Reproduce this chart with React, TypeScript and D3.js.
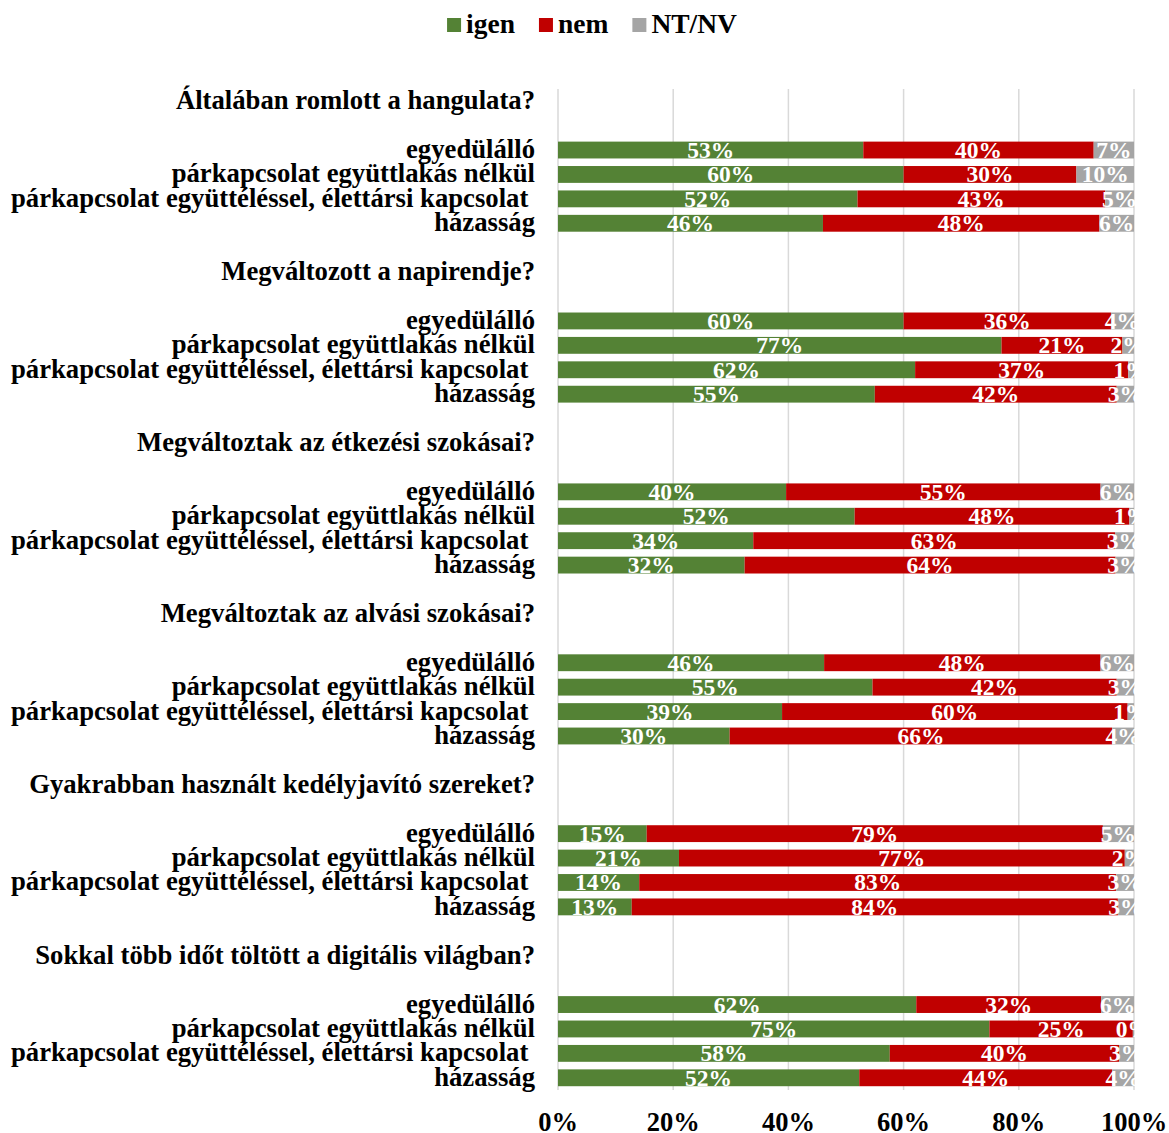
import * as React from 'react';
import { useRef, useEffect } from 'react';
import * as d3 from 'd3';

const questions = [
  'Általában romlott a hangulata?',
  'Megváltozott a napirendje?',
  'Megváltoztak az étkezési szokásai?',
  'Megváltoztak az alvási szokásai?',
  'Gyakrabban használt kedélyjavító szereket?',
  'Sokkal több időt töltött a digitális világban?',
];

const groups = [
  'egyedülálló',
  'párkapcsolat együttlakás nélkül',
  'párkapcsolat együttéléssel, élettársi kapcsolat ',
  'házasság',
];

const seriesNames = ['igen', 'nem', 'NT/NV'];
const seriesColors = ['#548235', '#C00000', '#A5A5A5'];

// values in %, 4 per question (same order as groups)
const igen = [53, 60, 52, 46, 60, 77, 62, 55, 39.6, 51.5, 33.9, 32.4, 46.2, 54.6, 38.9, 29.8, 15.4, 21, 14.1, 12.8, 62.2, 74.9, 57.6, 52.3];
const nem = [40, 30, 43, 48, 36, 21, 37, 42, 54.6, 47.7, 62.8, 64.4, 48, 42.4, 60, 66.4, 79.2, 77.4, 82.8, 84.4, 32.1, 24.9, 39.8, 43.9];
const ntnv = [7, 10, 5, 6, 4, 2, 1, 3, 5.8, 0.8, 3.3, 3.2, 5.8, 3, 1.1, 3.8, 5.4, 1.6, 3.1, 2.8, 5.7, 0.2, 2.6, 3.8];

const xTicks = [0, 20, 40, 60, 80, 100];

type Row = { key: string; label: string; header: boolean; values: number[] | null };

export default function App() {
  const ref = useRef<SVGSVGElement>(null);
  const width = 1169;
  const height = 1133;
  const margin = { top: 89, right: 35, bottom: 43, left: 558 };
  const font = '"Liberation Serif", "Times New Roman", serif';

  useEffect(() => {
    if (!ref.current) return;
    const svg = d3.select(ref.current);
    svg.selectAll('*').remove();

    // build row list: header, blank, 4 bars, blank
    const rows: Row[] = [];
    questions.forEach((q, qi) => {
      rows.push({ key: `q${qi}`, label: q, header: true, values: null });
      rows.push({ key: `q${qi}-b1`, label: '', header: false, values: null });
      groups.forEach((g, gi) => {
        const i = qi * 4 + gi;
        rows.push({ key: `q${qi}-g${gi}`, label: g, header: false, values: [igen[i], nem[i], ntnv[i]] });
      });
      if (qi < questions.length - 1) rows.push({ key: `q${qi}-b2`, label: '', header: false, values: null });
    });

    const x = d3.scaleLinear().domain([0, 100]).range([margin.left, width - margin.right]);
    const y = d3.scaleBand<string>()
      .domain(rows.map((r) => r.key))
      .range([margin.top, height - margin.bottom])
      .paddingInner(0.31)
      .paddingOuter(0.155);

    svg.append('defs')
      .append('clipPath')
      .attr('id', 'plot-clip')
      .append('rect')
      .attr('x', x(0))
      .attr('y', 0)
      .attr('width', x(100) - x(0) + 1)
      .attr('height', height);

    // gridlines
    svg.append('g')
      .selectAll('line')
      .data(xTicks)
      .join('line')
      .attr('x1', (d) => x(d))
      .attr('x2', (d) => x(d))
      .attr('y1', margin.top)
      .attr('y2', height - margin.bottom)
      .attr('stroke', '#d9d9d9')
      .attr('stroke-width', 1.5);

    const barRows = rows.filter((r) => r.values);

    // stacked segments
    const segs = barRows.flatMap((r) => {
      let acc = 0;
      return (r.values as number[]).map((v, si) => {
        const s = { key: r.key, si, x0: acc, x1: acc + v, v };
        acc += v;
        return s;
      });
    });

    svg.append('g')
      .selectAll('rect')
      .data(segs)
      .join('rect')
      .attr('x', (d) => x(d.x0))
      .attr('width', (d) => Math.max(0, x(Math.min(100, d.x1)) - x(d.x0)))
      .attr('y', (d) => y(d.key) as number)
      .attr('height', y.bandwidth())
      .attr('fill', (d) => seriesColors[d.si]);

    // value labels (clipped at the plot's right edge, like the original)
    svg.append('g')
      .attr('clip-path', 'url(#plot-clip)')
      .selectAll('text')
      .data(segs)
      .join('text')
      .attr('x', (d) => x((d.x0 + d.x1) / 2))
      .attr('y', (d) => (y(d.key) as number) + y.bandwidth() / 2)
      .attr('dy', '0.34em')
      .attr('text-anchor', 'middle')
      .attr('fill', '#fff')
      .attr('font-family', font)
      .attr('font-weight', 'bold')
      .attr('font-size', 23.5)
      .text((d) => `${Math.round(d.v)}%`);

    // category + question labels
    svg.append('g')
      .selectAll('text')
      .data(rows.filter((r) => r.label))
      .join('text')
      .attr('x', margin.left - 23)
      .attr('y', (d) => (y(d.key) as number) + y.bandwidth() / 2)
      .attr('dy', '0.3em')
      .attr('text-anchor', 'end')
      .attr('font-family', font)
      .attr('font-weight', 'bold')
      .attr('font-size', 26.7)
      .style('white-space', 'pre')
      .attr('fill', '#000')
      .text((d) => d.label);

    // x axis labels
    svg.append('g')
      .selectAll('text')
      .data(xTicks)
      .join('text')
      .attr('x', (d) => x(d))
      .attr('y', 1131)
      .attr('text-anchor', 'middle')
      .attr('font-family', font)
      .attr('font-weight', 'bold')
      .attr('font-size', 26.5)
      .attr('fill', '#000')
      .text((d) => `${d}%`);

    // legend
    const legend = svg.append('g');
    const items = legend.selectAll('g')
      .data(seriesNames)
      .join('g');
    items.append('rect')
      .attr('width', 14)
      .attr('height', 14)
      .attr('y', 18)
      .attr('fill', (_, i) => seriesColors[i]);
    items.append('text')
      .attr('x', 19)
      .attr('y', 33)
      .attr('font-family', font)
      .attr('font-weight', 'bold')
      .attr('font-size', 27.5)
      .attr('fill', '#000')
      .text((d) => d);
    let cx = 0;
    const offsets: number[] = [];
    items.each(function () {
      offsets.push(cx);
      const t = d3.select(this).select('text').node() as SVGTextElement;
      cx += 19 + t.getComputedTextLength() + 24;
    });
    const total = cx - 24;
    const start = 592 - total / 2;
    items.attr('transform', (_, i) => `translate(${start + offsets[i]},0)`);
  }, []);

  return (
    <svg
      ref={ref}
      width={width}
      height={height}
      style={{ position: 'absolute', left: 0, top: 0, background: '#fff' }}
    />
  );
}
